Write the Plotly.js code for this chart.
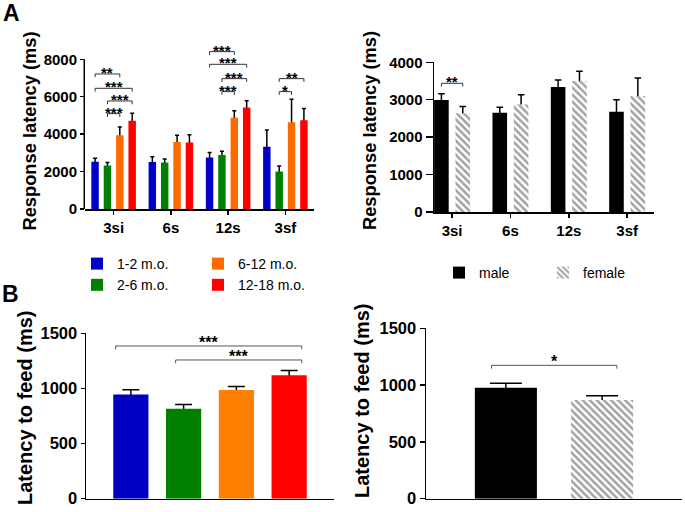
<!DOCTYPE html>
<html><head><meta charset="utf-8">
<script src="https://cdn.plot.ly/plotly-3.0.1.min.js"></script>
<style>html,body{margin:0;padding:0;background:#fff}#chart{width:685px;height:512px}</style>
</head><body><div id="chart"></div>
<script>
// ---------------- data ----------------
const tasks = ['3si', '6s', '12s', '3sf'];
const ageGroups = ['1-2 m.o.', '2-6 m.o.', '6-12 m.o.', '12-18 m.o.'];
const sexGroups = ['male', 'female'];
const titleLatency = 'Response latency (ms)';
const titleFeed = 'Latency to feed (ms)';

// Panel A (left): response latency (ms) by age group, mean and SEM
const latAge1to2 = [2530, 2510, 2750, 3330];
const latAge1to2Sem = [180, 285, 265, 890];
const latAge2to6 = [2320, 2480, 2890, 2000];
const latAge2to6Sem = [160, 195, 195, 300];
const latAge6to12 = [3940, 3580, 4870, 4630];
const latAge6to12Sem = [445, 355, 375, 1230];
const latAge12to18 = [4720, 3560, 5430, 4740];
const latAge12to18Sem = [395, 410, 355, 625];

// Panel A (right): response latency (ms) by sex
const latMale = [2990, 2650, 3340, 2680];
const latMaleSem = [170, 150, 185, 320];
const latFemale = [2640, 2870, 3500, 3100];
const latFemaleSem = [180, 265, 260, 480];

// Panel B: latency to feed (ms)
const feedAge = [945, 815, 985, 1120];
const feedAgeSem = [43, 40, 33, 42];
const feedSex = [977, 869];
const feedSexSem = [39, 38];

// significance brackets: [task index, bar i, bar j, height (ms), label]
const sigAgeA = [
  [0, 0, 2, 7216, '**'], [0, 0, 3, 6450, '***'], [0, 1, 3, 5773, '***'], [0, 1, 2, 5096, '***'],
  [2, 0, 2, 8410, '***'], [2, 0, 3, 7733, '***'], [2, 1, 3, 6967, '***'], [2, 1, 2, 6272, '***'],
  [3, 1, 3, 6967, '**'], [3, 1, 2, 6272, '*']
];
const sigSexA = [[0, 0, 1, 3439, '**']];
const sigAgeB = [[-0.289, 3.24, 1385, '***'], [0.849, 3.24, 1258, '***']];
const sigSexB = [[-0.149, 1.153, 1174, '*']];

// ---------------- layout helpers ----------------
const W = 685, H = 512;
const px = v => v / W;
const py = v => 1 - v / H;
const FONT = 'Liberation Sans, Arial, Helvetica, sans-serif';
const ageColorsA = ['#0000c8', '#008000', '#ff6a00', '#ff0000'];
const ageColorsB = ['#0000c4', '#007f00', '#ff8000', '#ff0000'];
const hatch = {shape: '\\', fgcolor: '#a2a2a2', bgcolor: '#ffffff', size: 5, solidity: 0.5, fillmode: 'replace'};

const dom = {
  aL: {x: [85, 314], y: [44.33, 209], xr: [-0.5, 3.5], yr: [0, 8800]},
  aR: {x: [434, 654], y: [62.3, 212], xr: [-0.31, 3.46], yr: [0, 4000]},
  bL: {x: [86, 334], y: [333.3, 498.7], xr: [-0.85, 3.85], yr: [0, 1500]},
  bR: {x: [426, 682], y: [328.3, 498.7], xr: [-0.83, 1.83], yr: [0, 1500]}
};
const ppu = d => (d.y[1] - d.y[0]) / (d.yr[1] - d.yr[0]);

const idx = tasks.map((t, i) => i);
const ageSeriesA = [latAge1to2, latAge2to6, latAge6to12, latAge12to18];
const ageSemA = [latAge1to2Sem, latAge2to6Sem, latAge6to12Sem, latAge12to18Sem];
const sexSeriesA = [latMale, latFemale];
const sexSemA = [latMaleSem, latFemaleSem];

const aLW = 0.13, aLC = [-0.324, -0.108, 0.108, 0.324];
const aRW = 0.25, aRC = [-0.183, 0.183];
const bLW = 0.667, bRW = 0.645;

const errTraces = [], barTraces = [];
function addBar(opts) {
  const base = {type: 'bar', x: opts.x, y: opts.y, width: opts.w, offset: opts.off,
    xaxis: opts.xa, yaxis: opts.ya, hoverinfo: 'skip'};
  errTraces.push(Object.assign({}, base, {
    marker: {color: 'rgba(0,0,0,0)', line: {width: 0}}, showlegend: false,
    error_y: {type: 'data', array: opts.err, symmetric: true, color: '#000', thickness: 1.5, width: opts.cap}
  }));
  barTraces.push(Object.assign({}, base, {
    name: opts.name, marker: opts.marker, showlegend: !!opts.legend, legend: opts.legend || 'legend'
  }));
}
const ageLegend = ['legend', 'legend', 'legend2', 'legend2'];
ageGroups.forEach((g, k) => {
  addBar({x: idx, y: ageSeriesA[k], err: ageSemA[k], w: aLW, off: aLC[k] - aLW / 2, xa: 'x', ya: 'y',
    cap: 2, name: g, marker: {color: ageColorsA[k], line: {width: 0}}, legend: ageLegend[k]});
});
sexGroups.forEach((g, k) => {
  addBar({x: idx, y: sexSeriesA[k], err: sexSemA[k], w: aRW, off: aRC[k] - aRW / 2, xa: 'x2', ya: 'y2',
    cap: 3.3, name: g, legend: 'legend3',
    marker: k === 0 ? {color: '#000000', line: {width: 0}} : {color: '#ffffff', line: {width: 0}, pattern: hatch}});
});
ageGroups.forEach((g, k) => {
  addBar({x: [k], y: [feedAge[k]], err: [feedAgeSem[k]], w: bLW, off: -bLW / 2, xa: 'x3', ya: 'y3',
    cap: 8.5, name: g, marker: {color: ageColorsB[k], line: {width: 0}}});
});
sexGroups.forEach((g, k) => {
  addBar({x: [k], y: [feedSex[k]], err: [feedSexSem[k]], w: bRW, off: -bRW / 2, xa: 'x4', ya: 'y4',
    cap: 16, name: g,
    marker: k === 0 ? {color: '#000000', line: {width: 0}} : {color: '#ffffff', line: {width: 0}, pattern: hatch}});
});

// ---------------- brackets ----------------
const shapes = [], annotations = [];
function bracket(xr, yr, x1, x2, y, label, d, legPx, color, fsize, yshift) {
  const leg = legPx / ppu(d);
  shapes.push({type: 'path', xref: xr, yref: yr,
    path: `M ${x1},${y - leg} L ${x1},${y} L ${x2},${y} L ${x2},${y - leg}`,
    line: {color: color, width: 1}});
  annotations.push({xref: xr, yref: yr, x: (x1 + x2) / 2, y: y, text: label, showarrow: false,
    xanchor: 'center', yanchor: 'bottom', yshift: yshift,
    font: {family: FONT, size: fsize, color: '#000', weight: 'bold'}});
}
sigAgeA.forEach(([t, i, j, y, lab]) => bracket('x', 'y', t + aLC[i], t + aLC[j], y, lab, dom.aL, 3.3, '#333', 15, -9));
sigSexA.forEach(([t, i, j, y, lab]) => bracket('x2', 'y2', t + aRC[i], t + aRC[j], y, lab, dom.aR, 3.3, '#333', 15, -9));
sigAgeB.forEach(([x1, x2, y, lab]) => bracket('x3', 'y3', x1, x2, y, lab, dom.bL, 3.3, '#555', 16, -7));
sigSexB.forEach(([x1, x2, y, lab]) => bracket('x4', 'y4', x1, x2, y, lab, dom.bR, 3.3, '#555', 16, -7));

// left A y-axis line only up to 8000
shapes.push({type: 'line', xref: 'paper', yref: 'y', x0: px(dom.aL.x[0]) - 0.75 / W, x1: px(dom.aL.x[0]) - 0.75 / W,
  y0: 0, y1: 8000, line: {color: '#000', width: 1.5}});

// panel letters
annotations.push({xref: 'paper', yref: 'paper', x: px(11.5), y: py(13), text: 'A', showarrow: false,
  xanchor: 'center', yanchor: 'middle', font: {family: FONT, size: 23, color: '#000', weight: 'bold'}});
annotations.push({xref: 'paper', yref: 'paper', x: px(10), y: py(293.5), text: 'B', showarrow: false,
  xanchor: 'center', yanchor: 'middle', font: {family: FONT, size: 23, color: '#000', weight: 'bold'}});

// axis titles (rotated text)
function yTitle(text, cx, cy, size) {
  annotations.push({xref: 'paper', yref: 'paper', x: px(cx), y: py(cy), text: text, showarrow: false,
    textangle: -90, xanchor: 'center', yanchor: 'middle',
    font: {family: FONT, size: size, color: '#000', weight: 'bold'}});
}
yTitle(titleLatency, 28.5, 131, 18.3);
yTitle(titleLatency, 369, 131, 18.3);
yTitle(titleFeed, 25, 408, 20);
yTitle(titleFeed, 362, 401, 20);

// ---------------- axes ----------------
const tickFont = s => ({family: FONT, size: s, color: '#000', weight: 'bold'});
function xAxis(d, anchor, labels) {
  return {domain: [px(d.x[0]), px(d.x[1])], range: d.xr, anchor: anchor, fixedrange: true,
    showline: true, linecolor: '#000', linewidth: 1.5, showgrid: false, zeroline: false,
    tickmode: 'array', tickvals: labels ? idx : [], ticktext: labels ? tasks : [],
    ticks: labels ? 'outside' : '', ticklen: 4, tickwidth: 1.5, tickcolor: '#000',
    showticklabels: !!labels, tickfont: tickFont(15)};
}
function yAxis(d, anchor, tsize, dtick, showline, ticklen) {
  return {domain: [py(d.y[1]), py(d.y[0])], range: d.yr, anchor: anchor, fixedrange: true,
    showline: showline, linecolor: '#000', linewidth: 1.5, showgrid: false, zeroline: false,
    tick0: 0, dtick: dtick, ticks: 'outside', ticklen: ticklen, tickwidth: 1.5, tickcolor: '#000',
    tickfont: tickFont(tsize)};
}

const legFont = {family: FONT, size: 14, color: '#000'};
const layout = {
  width: W, height: H, margin: {l: 0, r: 0, t: 0, b: 0},
  paper_bgcolor: '#fff', plot_bgcolor: 'rgba(0,0,0,0)',
  barmode: 'overlay', showlegend: true,
  xaxis: xAxis(dom.aL, 'y', true),
  yaxis: yAxis(dom.aL, 'x', 15, 2000, false, 4),
  xaxis2: xAxis(dom.aR, 'y2', true),
  yaxis2: yAxis(dom.aR, 'x2', 15, 1000, true, 7),
  xaxis3: xAxis(dom.bL, 'y3', false),
  yaxis3: yAxis(dom.bL, 'x3', 16.5, 500, true, 4),
  xaxis4: xAxis(dom.bR, 'y4', false),
  yaxis4: yAxis(dom.bR, 'x4', 16.5, 500, true, 5),
  legend: {x: px(77), y: py(248), xanchor: 'left', yanchor: 'top', orientation: 'v', font: legFont,
    bgcolor: 'rgba(0,0,0,0)', tracegroupgap: 0},
  legend2: {x: px(198), y: py(248), xanchor: 'left', yanchor: 'top', orientation: 'v', font: legFont,
    bgcolor: 'rgba(0,0,0,0)', tracegroupgap: 0},
  legend3: {x: px(439), y: py(257), xanchor: 'left', yanchor: 'top', orientation: 'h', font: legFont,
    bgcolor: 'rgba(0,0,0,0)', entrywidth: 59, entrywidthmode: 'pixels'},
  shapes: shapes, annotations: annotations
};

Plotly.newPlot('chart', errTraces.concat(barTraces), layout, {displayModeBar: false, staticPlot: true});
</script>
</body></html>
